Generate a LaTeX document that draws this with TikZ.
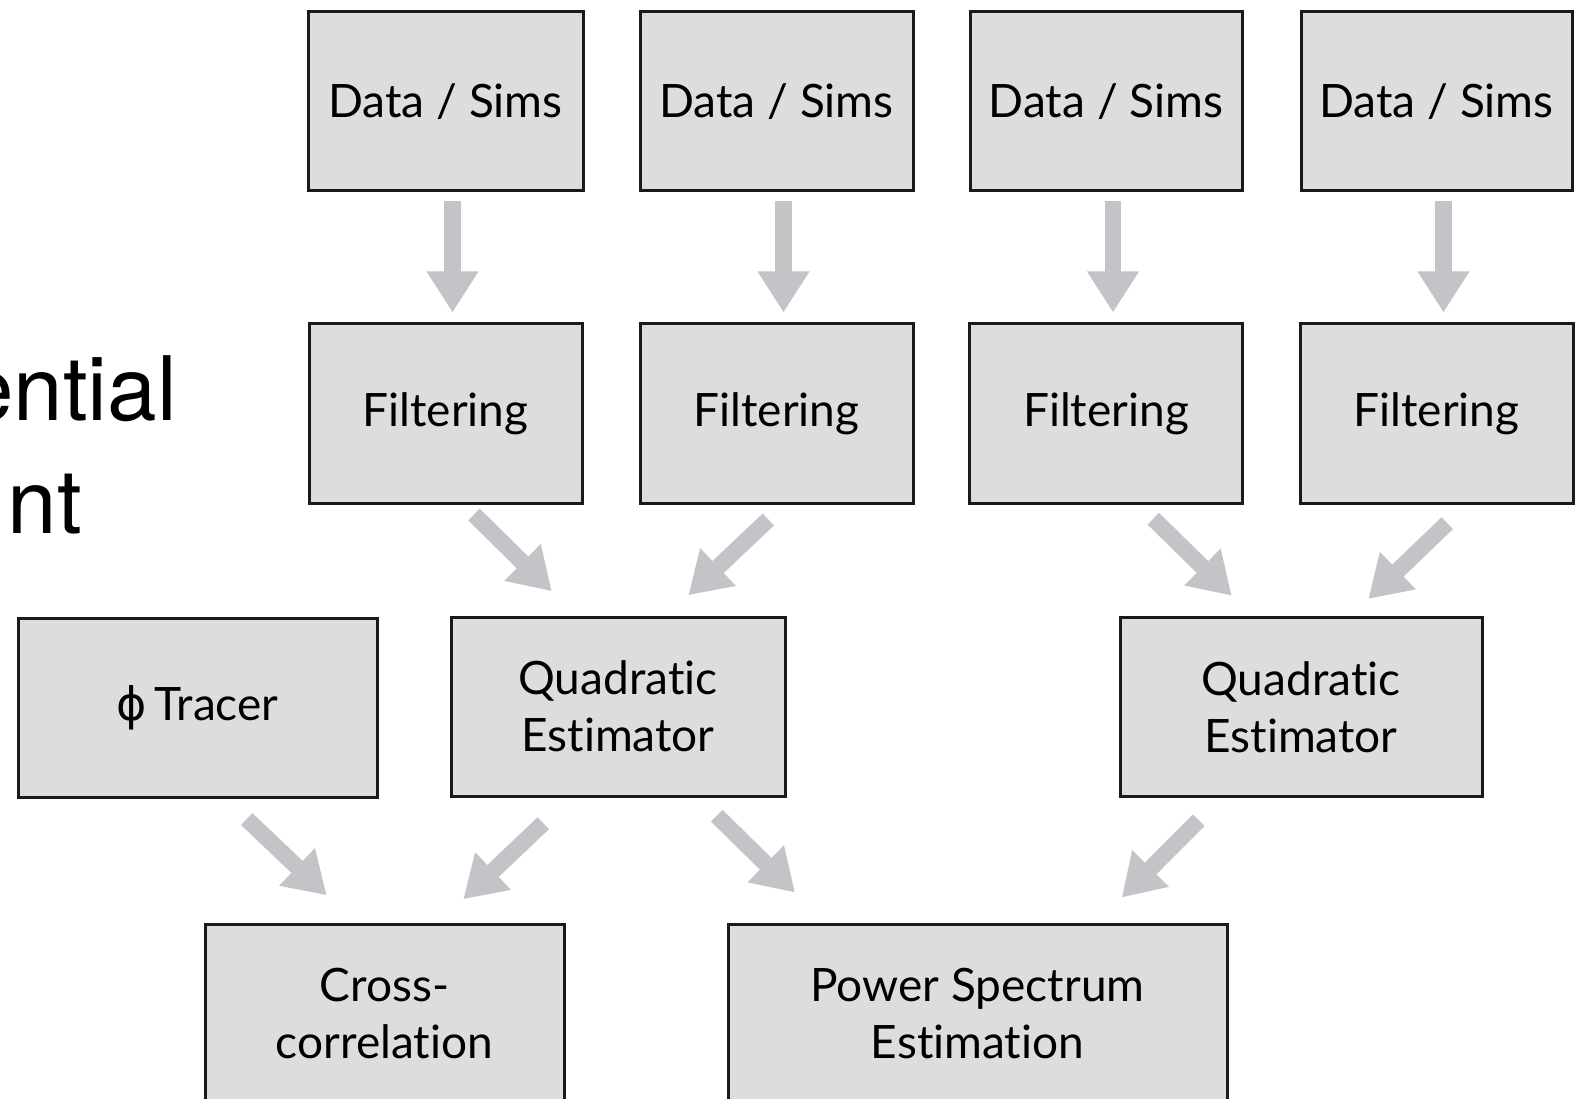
\documentclass[tikz,border=0pt]{standalone}
\usepackage{fontspec}
\setmainfont{Lato}[Ligatures={NoCommon}]
\newfontfamily\headfont{TeX Gyre Heros}
\newfontfamily\greekfont{DejaVu Sans}
\usetikzlibrary{positioning,arrows.meta}

\definecolor{boxgray}{HTML}{DCDDDF}
\definecolor{boxline}{HTML}{1A1A1A}
\definecolor{arrowgray}{HTML}{C3C4C7}

\tikzset{
	stage/.style={draw=boxline,
		fill=boxgray,
		line width=3pt,
		align=center,
		inner sep=0pt,
		minimum height=179pt,
		font=\fontsize{46}{57}\selectfont},
	flow/.style={arrowgray,
		line width=16.5pt,
		-{Triangle[width=49pt,length=41pt]}}
}

\begin{document}
\begin{tikzpicture}[x=1pt,y=-1pt]
		
		\useasboundingbox (0,0) rectangle (1580,1099);
		
		% heading, cut at the page edge
		\node[anchor=base east,
		inner sep=0,
		font=\headfont\fontsize{89}{110}\selectfont] (head1) at (177,420) {ential};
		\node[anchor=base east,
		inner sep=0,
		font=\headfont\fontsize{89}{110}\selectfont] (head2) at (82,533) {nt};
		
		% inputs
		\node[stage,
		minimum width=275pt] (data1) at (445.5,101.5) {Data / Sims};
		\node[stage,
		minimum width=273pt] (data2) at (776.5,101.5) {Data / Sims};
		\node[stage,
		minimum width=272pt] (data3) at (1106,101.5) {Data / Sims};
		\node[stage,
		minimum width=271pt] (data4) at (1436.5,101.5) {Data / Sims};
		
		% filtering
		\foreach \i in {1,...,4}{
			\node[stage,
			minimum width=273pt,
			below=130pt of data\i] (filt\i) {Filtering};
		}
		
		\node[stage,
		minimum width=359pt] (tracer) at (197.5,707.5) {{\greekfont ϕ}\,Tracer};
		
		\node[stage,
		minimum width=334pt] (quad1) at (618,706.5) {Quadratic\\Estimator};
		
		\node[stage,
		minimum width=362pt] (quad2) at (1301,707) {Quadratic\\Estimator};
		
		% outputs
		\node[stage,
		minimum width=359pt] (cross) at (384.5,1013.5) {Cross-\\correlation};
		
		\node[stage,
		minimum width=499pt] (power) at (977.5,1013.5) {Power Spectrum\\Estimation};
		
		% Arrows
		\foreach \i in {1,...,4}
		\draw[flow] ([shift={(7,9)}]data\i.south) -- ([shift={(7,-10)}]filt\i.north);
		
		\draw[flow] ([shift={(28.5,10)}]filt1.south) -- ([shift={(-66.3,-24.3)}]quad1.north);
		\draw[flow] ([shift={(-8.2,15)}]filt2.south) -- ([shift={(70.3,-20.3)}]quad1.north);
		\draw[flow] ([shift={(47.3,14.2)}]filt3.south) -- ([shift={(-69.3,-20.3)}]quad2.north);
		\draw[flow] ([shift={(10.7,18.7)}]filt4.south) -- ([shift={(67.3,-17)}]quad2.north);
		
		\draw[flow] ([shift={(49.2,20.5)}]tracer.south) -- ([shift={(-57.8,-27.3)}]cross.north);
		\draw[flow] ([shift={(-74.7,25.7)}]quad1.south) -- ([shift={(78.8,-23.3)}]cross.north);
		\draw[flow] ([shift={(98.7,18.2)}]quad1.south) -- ([shift={(-182.5,-30)}]power.north);
		\draw[flow] ([shift={(-102.3,22.2)}]quad2.south) -- ([shift={(144.2,-25)}]power.north);
		
\end{tikzpicture}
\end{document}
